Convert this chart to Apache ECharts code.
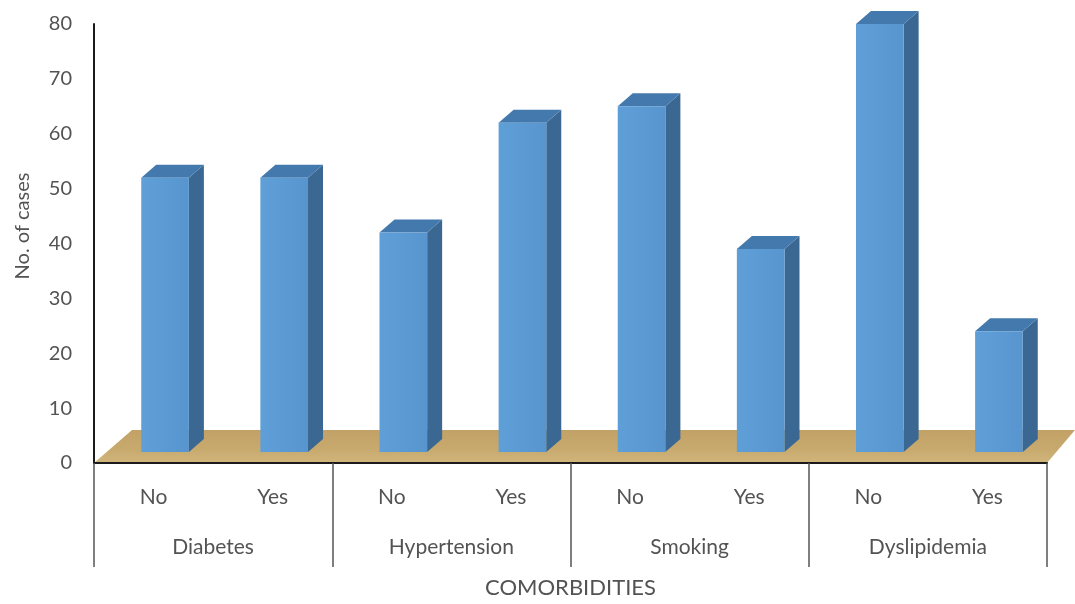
<!DOCTYPE html>
<html>
<head>
<meta charset="utf-8">
<script src="https://cdn.jsdelivr.net/npm/echarts@6/dist/echarts.min.js"></script>
<style>
  html, body { margin: 0; padding: 0; background: #ffffff; }
  #chart { width: 1075px; height: 604px; }
</style>
</head>
<body>
<div id="chart"></div>
<script>
// Answer per bar, grouped two per comorbidity
const answers = ['No', 'Yes', 'No', 'Yes', 'No', 'Yes', 'No', 'Yes'];
const comorbidities = ['Diabetes', 'Hypertension', 'Smoking', 'Dyslipidemia'];
// Number of cases for each bar
const cases = [50, 50, 40, 60, 63, 37, 78, 22];

const FONT = 'Lato, "Liberation Sans", sans-serif';
const TEXT = '#535353';

// Pseudo-3D column: front face, right side and top
function renderBar(params, api) {
  const i = api.value(0);
  const v = api.value(1);
  const top = api.coord([i, v]);
  const base = api.coord([i, 0]);
  const band = api.size([1, 0])[0];
  const w = band * 0.40;
  const dx = 11.5, dy = -11;   // column sits a little back on the floor
  const sx = 15, sy = 13;       // depth of the column
  const x0 = top[0] + dx - w / 2;
  const x1 = x0 + w;
  const yt = top[1] + dy;
  const yb = base[1] + dy;
  return {
    type: 'group',
    children: [
      { type: 'polygon', shape: { points: [[x1, yt], [x1 + sx, yt - sy], [x1 + sx, yb - sy], [x1, yb]] },
        style: { fill: '#3b6892' } },
      { type: 'polygon', shape: { points: [[x0, yt], [x0 + sx, yt - sy], [x1 + sx, yt - sy], [x1, yt]] },
        style: { fill: '#4479ad' } },
      { type: 'rect', shape: { x: x0, y: yt, width: w, height: yb - yt },
        style: { fill: {
          type: 'linear', x: 0, y: 0, x2: 1, y2: 0,
          colorStops: [{ offset: 0, color: '#5f9fd8' }, { offset: 1, color: '#5895cf' }]
        } } }
    ]
  };
}

// Tan floor under the columns
function renderFloor(params, api) {
  const cs = params.coordSys;
  const yF = cs.y + cs.height;
  const xl = cs.x, xr = cs.x + cs.width;
  const depth = 33;
  return {
    type: 'polygon',
    shape: { points: [[xl, yF], [xl + 38, yF - depth], [xr + 28, yF - depth], [xr, yF]] },
    style: { fill: {
      type: 'linear', x: 0, y: 0, x2: 0, y2: 1,
      colorStops: [{ offset: 0, color: '#c2a166' }, { offset: 0.6, color: '#c8aa6e' }, { offset: 1, color: '#d0b57c' }]
    } }
  };
}

const chart = echarts.init(document.getElementById('chart'), null, { renderer: 'canvas' });

chart.setOption({
  animation: false,
  backgroundColor: '#ffffff',
  grid: { left: 94, right: 28, top: 24, bottom: 137, containLabel: false },
  xAxis: [
    {
      type: 'category',
      data: answers,
      z: 10,
      axisLine: { show: true, lineStyle: { color: '#1a1a1a', width: 2 } },
      axisTick: { show: false },
      axisLabel: { color: TEXT, fontFamily: FONT, fontSize: 21, margin: 24 },
      splitLine: { show: false }
    },
    {
      type: 'category',
      data: comorbidities,
      position: 'bottom',
      offset: 0,
      z: 10,
      axisLine: { show: false },
      axisTick: { show: true, length: 104, lineStyle: { color: '#555555', width: 1.5 } },
      axisLabel: { color: TEXT, fontFamily: FONT, fontSize: 21, margin: 74 },
      splitLine: { show: false },
      name: 'COMORBIDITIES',
      nameLocation: 'middle',
      nameGap: 114,
      nameTextStyle: { color: TEXT, fontFamily: FONT, fontSize: 22 }
    }
  ],
  yAxis: {
    type: 'value',
    min: 0,
    max: 80,
    interval: 10,
    z: 10,
    axisLine: { show: true, lineStyle: { color: '#1a1a1a', width: 2 } },
    axisTick: { show: false },
    splitLine: { show: false },
    axisLabel: { color: TEXT, fontFamily: FONT, fontSize: 20, margin: 22 }
  },
  graphic: [
    {
      type: 'text',
      x: 23, y: 226,
      rotation: Math.PI / 2,
      style: { text: 'No. of cases', fill: TEXT, font: '20px ' + FONT, align: 'center', verticalAlign: 'middle' }
    }
  ],
  series: [
    {
      type: 'custom',
      name: 'floor',
      xAxisIndex: 0,
      z: 1,
      silent: true,
      renderItem: renderFloor,
      data: [[0, 0]]
    },
    {
      type: 'custom',
      name: 'No. of cases',
      xAxisIndex: 0,
      z: 2,
      renderItem: renderBar,
      encode: { x: 0, y: 1 },
      data: cases.map((v, i) => [i, v])
    }
  ]
});
</script>
</body>
</html>
